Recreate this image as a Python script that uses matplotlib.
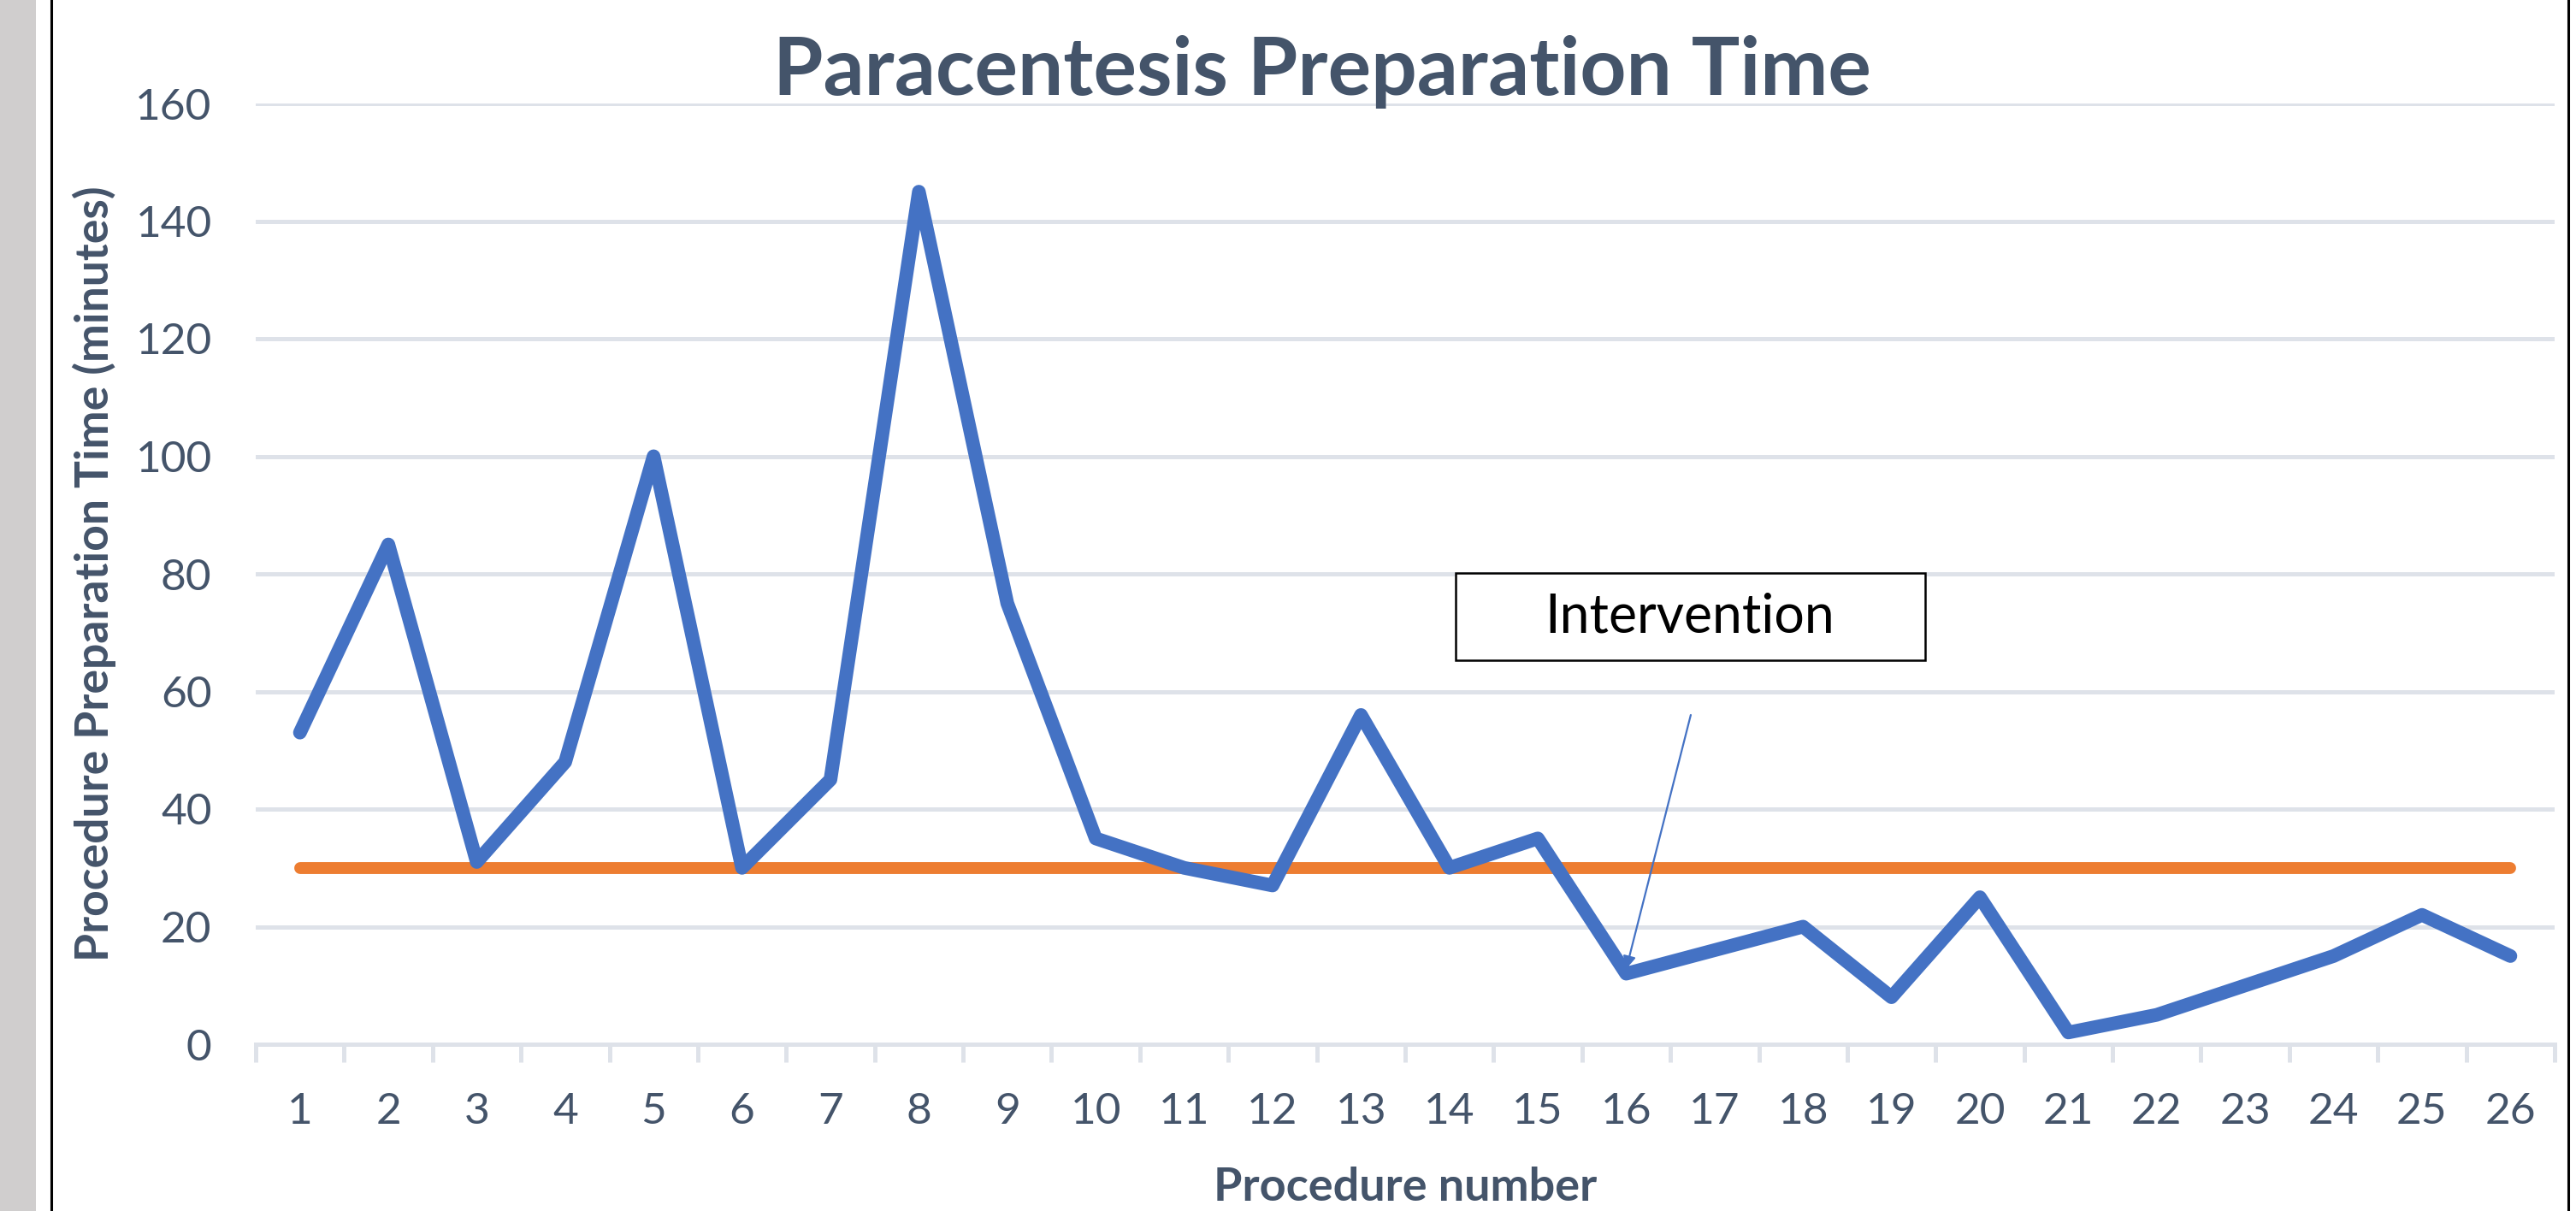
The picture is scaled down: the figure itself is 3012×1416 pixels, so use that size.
import matplotlib
matplotlib.use("Agg")
import matplotlib.pyplot as plt
from matplotlib.patches import Rectangle
from matplotlib.lines import Line2D
from matplotlib.ticker import FixedLocator

procedures = list(range(1, 27))
prep_time = [53, 85, 31, 48, 100, 30, 45, 145, 75, 35, 30, 27, 56, 30, 35,
             12, 16, 20, 8, 25, 2, 5, 10, 15, 22, 15]
target = [30] * 26
y_ticks = [0, 20, 40, 60, 80, 100, 120, 140, 160]

title = "Paracentesis Preparation Time"
ylabel = "Procedure Preparation Time (minutes)"
xlabel = "Procedure number"
note = "Intervention"

TEXT = "#44546A"
GRID = "#DEE2E9"
BLUE = "#4472C4"
ORANGE = "#ED7D31"
FONT = "Lato"

W, H = 3012, 1416
fig = plt.figure(figsize=(W / 100, H / 100), dpi=100)
ax = fig.add_axes([299 / W, 1 - 1221 / H, (2987 - 299) / W, (1221 - 121) / H])

ax.plot(procedures, target, color=ORANGE, lw=10, solid_capstyle="round", zorder=3)
ax.plot(procedures, prep_time, color=BLUE, lw=11.5, solid_capstyle="round",
        solid_joinstyle="round", zorder=4)

ax.set_xlim(0.5, 26.5)
ax.set_ylim(0, 160)
ax.set_yticks(y_ticks)
ax.set_xticks(procedures)
ax.xaxis.set_minor_locator(FixedLocator([i + 0.5 for i in range(0, 27)]))
ax.tick_params(axis="x", which="major", length=0, pad=40, labelsize=37,
               labelcolor=TEXT)
ax.tick_params(axis="x", which="minor", length=15, width=3.6, color=GRID)
ax.tick_params(axis="y", length=0, pad=37, labelsize=37, labelcolor=TEXT)
for lab in ax.get_xticklabels() + ax.get_yticklabels():
    lab.set_fontfamily(FONT)

ax.grid(axis="y", color=GRID, lw=3.6, zorder=0)
for s in ["top", "right", "left"]:
    ax.spines[s].set_visible(False)
ax.spines["bottom"].set_color(GRID)
ax.spines["bottom"].set_linewidth(3.6)
ax.set_axisbelow(True)

ax.set_xlabel(xlabel, fontsize=39, fontweight="bold", color=TEXT,
              fontfamily=FONT, labelpad=30)
ax.set_ylabel(ylabel, fontsize=38.5, fontweight="bold", color=TEXT,
              fontfamily=FONT, labelpad=16)
fig.text(1546 / W, 1 - 111 / H, title, ha="center", va="baseline",
         fontsize=68, fontweight="bold", color=TEXT, fontfamily=FONT)

# Intervention annotation box and arrow
ax.add_patch(Rectangle((14.07, 65.3), 5.31, 14.8, facecolor="white",
                       edgecolor="black", lw=1.8, zorder=5))
ax.text(16.72, 72.7, note, ha="center", va="center", fontsize=45,
        color="black", fontfamily=FONT, zorder=6)
ax.annotate("", xy=(16.0, 12.8), xytext=(16.73, 56),
            arrowprops=dict(arrowstyle="-|>", color=BLUE, lw=1.6,
                            mutation_scale=22, shrinkA=0, shrinkB=0),
            zorder=6)

# page frame elements
fig.patches.append(Rectangle((0, 0), 42 / W, 1, transform=fig.transFigure,
                             facecolor="#D0CECE", edgecolor="none"))
fig.add_artist(Line2D([60 / W, 60 / W], [0, 1], color="black", lw=2.2))
fig.add_artist(Line2D([3003 / W, 3003 / W], [0, 1], color="black", lw=2.2))

fig.savefig("out.png", dpi=100)
